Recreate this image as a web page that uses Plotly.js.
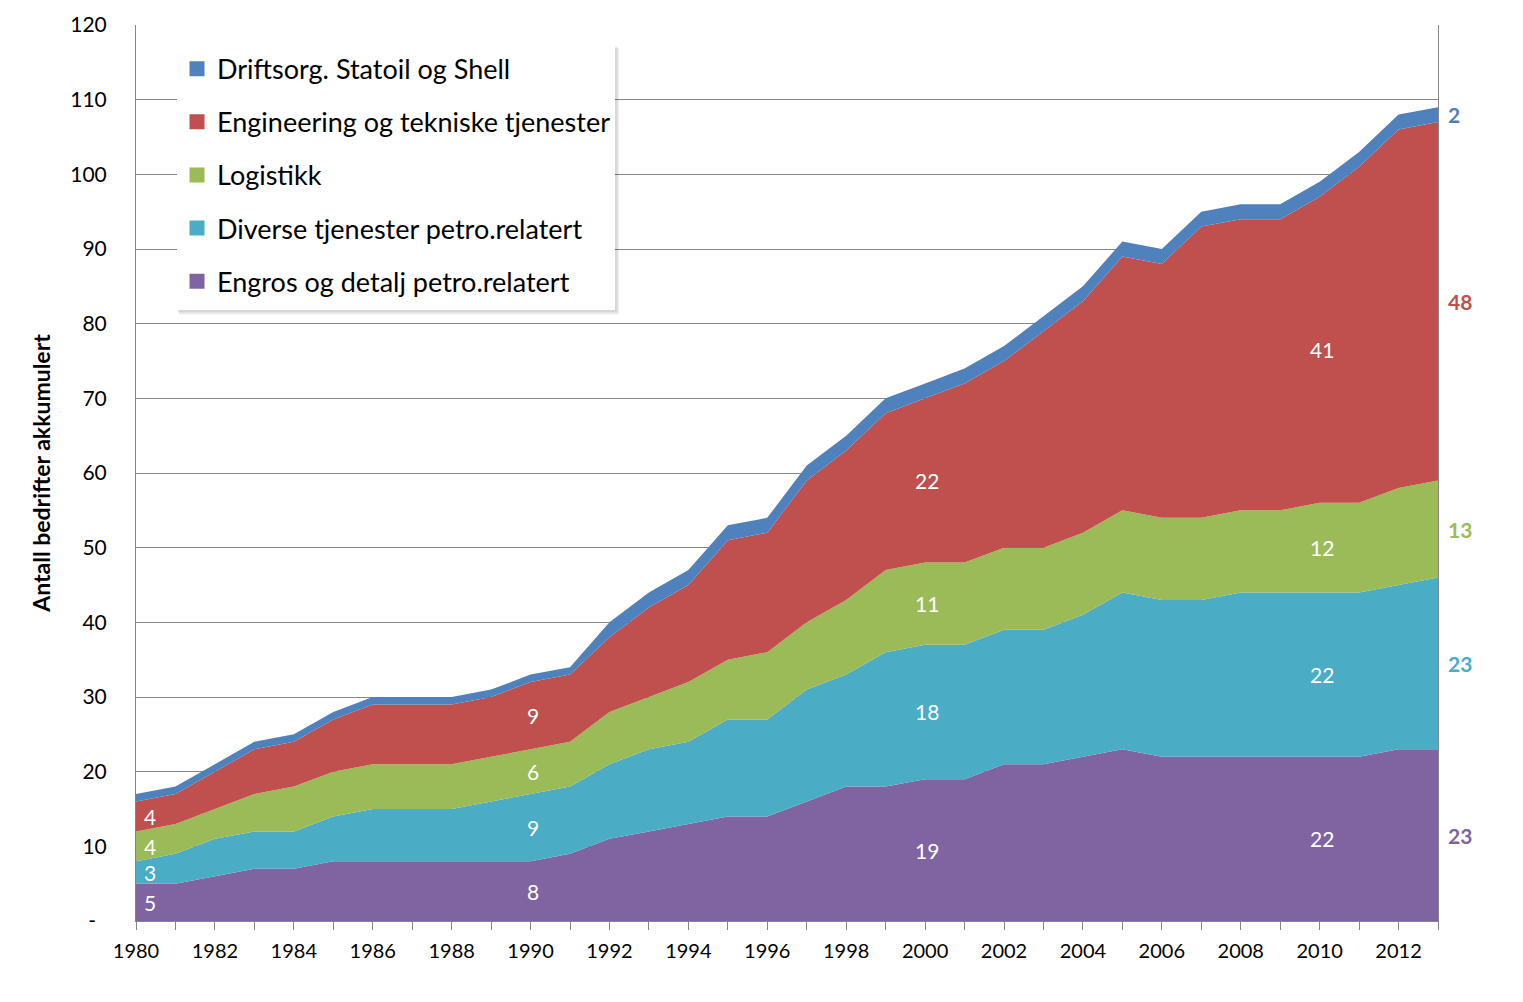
<!DOCTYPE html>
<html>
<head>
<meta charset="utf-8">
<script src="https://cdn.plot.ly/plotly-3.0.1.min.js"></script>
<style>
  html, body { margin: 0; padding: 0; background: #fff; }
  #chart { width: 1523px; height: 1002px; }
</style>
</head>
<body>
<div id="chart"></div>
<script>
// ---- Data ----
const years = [1980,1981,1982,1983,1984,1985,1986,1987,1988,1989,1990,1991,1992,1993,1994,1995,1996,1997,1998,1999,2000,2001,2002,2003,2004,2005,2006,2007,2008,2009,2010,2011,2012,2013];

const engros      = [5,5,6,7,7,8,8,8,8,8,8,9,11,12,13,14,14,16,18,18,19,19,21,21,22,23,22,22,22,22,22,22,23,23];
const diverse     = [3,4,5,5,5,6,7,7,7,8,9,9,10,11,11,13,13,15,15,18,18,18,18,18,19,21,21,21,22,22,22,22,22,23];
const logistikk   = [4,4,4,5,6,6,6,6,6,6,6,6,7,7,8,8,9,9,10,11,11,11,11,11,11,11,11,11,11,11,12,12,13,13];
const engineering = [4,4,5,6,6,7,8,8,8,8,9,9,10,12,13,16,16,19,20,21,22,24,25,29,31,34,34,39,39,39,41,45,48,48];
const driftsorg   = [1,1,1,1,1,1,1,1,1,1,1,1,2,2,2,2,2,2,2,2,2,2,2,2,2,2,2,2,2,2,2,2,2,2];

const seriesNames = [
  "Engros og detalj petro.relatert",
  "Diverse tjenester petro.relatert",
  "Logistikk",
  "Engineering og tekniske tjenester",
  "Driftsorg. Statoil og Shell"
];
const seriesColors = ["#8064A2", "#4BACC6", "#9BBB59", "#C0504D", "#4F81BD"];
const seriesValues = [engros, diverse, logistikk, engineering, driftsorg];

const labelYears = [1980, 1990, 2000, 2010];   // years with white labels inside the bands
const yTickVals  = [0,10,20,30,40,50,60,70,80,90,100,110,120];
const yTickText  = ["-\u00A0\u00A0","10","20","30","40","50","60","70","80","90","100","110","120"];
const xTickVals  = [1980,1982,1984,1986,1988,1990,1992,1994,1996,1998,2000,2002,2004,2006,2008,2010,2012];

// ---- Traces ----
const FONT = "Lato, 'Noto Sans', sans-serif";
const traces = [];
seriesValues.forEach((vals, i) => {
  traces.push({
    type: "scatter",
    x: years,
    y: vals,
    name: seriesNames[i],
    stackgroup: "one",
    mode: "none",
    fillcolor: seriesColors[i],
    line: { width: 0 },
    showlegend: false,
    hoverinfo: "x+y+name"
  });
});
// legend entries (square swatches), top-to-bottom order as in the reference
for (let i = seriesValues.length - 1; i >= 0; i--) {
  traces.push({
    type: "scatter",
    x: [null],
    y: [null],
    name: seriesNames[i],
    mode: "markers",
    marker: { symbol: "square", size: 15, color: seriesColors[i] },
    legendgroup: "g" + i,
    showlegend: true,
    hoverinfo: "skip"
  });
}

// ---- Annotations (data labels) ----
const annotations = [];
const cum = years.map(() => 0);
seriesValues.forEach((vals, s) => {
  years.forEach((yr, k) => {
    const base = cum[k];
    const mid = base + vals[k] / 2;
    if (s < 4 && labelYears.includes(yr)) {
      annotations.push({
        x: yr, y: mid, xref: "x", yref: "y",
        text: String(vals[k]), showarrow: false,
        xanchor: yr === years[0] ? "left" : "center",
        xshift: yr === years[0] ? 6 : 2,
        font: { family: FONT, size: 21, color: "#ffffff" }
      });
    }
    if (k === years.length - 1) {
      annotations.push({
        x: yr, y: mid, xref: "x", yref: "y",
        text: "<b>" + vals[k] + "</b>", showarrow: false,
        xanchor: "left", xshift: 8,
        font: { family: FONT, size: 21, color: seriesColors[s] }
      });
    }
    cum[k] = base + vals[k];
  });
});

// ---- Layout ----
const layout = {
  width: 1523,
  height: 1002,
  paper_bgcolor: "#ffffff",
  plot_bgcolor: "#ffffff",
  margin: { l: 136, r: 85, t: 25, b: 81 },
  font: { family: FONT, color: "#000000", size: 20 },
  showlegend: true,
  legend: {
    x: 0.0315, y: 0.978, xanchor: "left", yanchor: "top",
    bgcolor: "rgba(0,0,0,0)", borderwidth: 0,
    font: { family: FONT, size: 27, color: "#000000" },
    traceorder: "grouped",
    tracegroupgap: 15,
    itemwidth: 30
  },
  xaxis: {
    type: "linear",
    range: [1980, 2013],
    tickmode: "array",
    tickvals: xTickVals,
    ticks: "outside",
    ticklen: 8,
    tickcolor: "#868686",
    ticklabelstandoff: 4,
    minor: { ticks: "outside", dtick: 1, tick0: 1980, ticklen: 8, tickcolor: "#868686", showgrid: false },
    showline: true,
    linecolor: "#868686",
    linewidth: 1,
    showgrid: false,
    zeroline: false,
    tickfont: { family: FONT, size: 20, color: "#000000" },
    fixedrange: true
  },
  yaxis: {
    range: [0, 120],
    tickmode: "array",
    tickvals: yTickVals,
    ticktext: yTickText,
    ticks: "",
    ticklabelstandoff: 24,
    showline: true,
    mirror: true,
    linecolor: "#868686",
    linewidth: 1,
    showgrid: true,
    gridcolor: "#868686",
    gridwidth: 1,
    zeroline: false,
    tickfont: { family: FONT, size: 21, color: "#000000" },
    title: {
      text: "<b>Antall bedrifter akkumulert</b>",
      font: { family: FONT, size: 23, color: "#000000" },
      standoff: 13
    },
    fixedrange: true
  },
  annotations: annotations,
  shapes: [
    // soft shadow of the legend box
    { type: "rect", xref: "paper", yref: "paper", layer: "above",
      x0: 0.0330, x1: 0.3710, y0: 0.6770, y1: 0.9740,
      fillcolor: "rgba(0,0,0,0.07)", line: { width: 0 } },
    { type: "rect", xref: "paper", yref: "paper", layer: "above",
      x0: 0.0322, x1: 0.3698, y0: 0.6790, y1: 0.9760,
      fillcolor: "rgba(0,0,0,0.09)", line: { width: 0 } },
    // legend box
    { type: "rect", xref: "paper", yref: "paper", layer: "above",
      x0: 0.0315, x1: 0.3679, y0: 0.6819, y1: 0.9777,
      fillcolor: "#ffffff", line: { width: 0 } }
  ]
};

Plotly.newPlot("chart", traces, layout, { displayModeBar: false, staticPlot: true });
</script>
</body>
</html>
